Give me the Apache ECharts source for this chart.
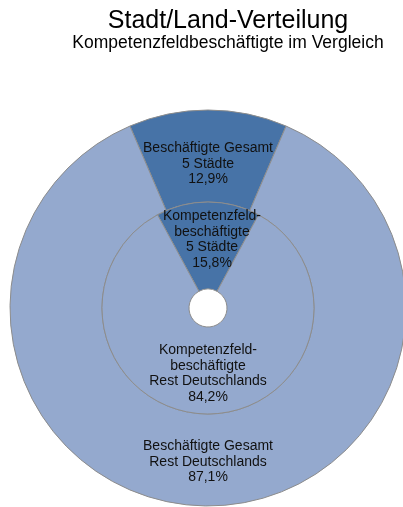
<!DOCTYPE html>
<html><head><meta charset="utf-8">
<script src="https://cdn.jsdelivr.net/npm/echarts@6/dist/echarts.min.js"></script>
<style>html,body{margin:0;padding:0;background:#fff}#c{width:403px;height:507px}</style>
</head><body><div id="c"></div>
<script>
const outerNames = ['Beschäftigte Gesamt\n5 Städte', 'Beschäftigte Gesamt\nRest Deutschlands'];
const outerValues = [12.9, 87.1];
const innerNames = ['Kompetenzfeld-\nbeschäftigte\n5 Städte', 'Kompetenzfeld-\nbeschäftigte\nRest Deutschlands'];
const innerValues = [15.8, 84.2];
const colors = ['#4773A7', '#94A9CE'];

const fmt = p => p.name + '\n' + p.value.toFixed(1).replace('.', ',') + '%';
const chart = echarts.init(document.getElementById('c'));
const offsetsOuter = [[0, 11], [0, -1]];
const offsetsInner = [[4, -3], [0, 0]];
const mk = (names, vals, offs) => names.map((n, i) => ({name: n, value: vals[i], itemStyle: {color: colors[i]}, label: {offset: offs[i]}}));
const lbl = {show: true, position: 'inside', formatter: fmt, color: '#111', fontFamily: 'Liberation Sans, Arial, sans-serif', fontSize: 14, lineHeight: 15.5};
const border = {borderColor: '#8c8c8c', borderWidth: 1};
chart.setOption({
  animation: false,
  title: {
    text: 'Stadt/Land-Verteilung',
    subtext: 'Kompetenzfeldbeschäftigte im Vergleich',
    left: 223, top: 4, textAlign: 'center',
    textStyle: {fontFamily: 'Liberation Sans, Arial, sans-serif', fontSize: 25, fontWeight: 'normal', color: '#000'},
    subtextStyle: {fontFamily: 'Liberation Sans, Arial, sans-serif', fontSize: 17.5, color: '#000'},
    itemGap: 0
  },
  series: [
    {type: 'pie', center: [208, 308], radius: [106, 198], clockwise: true,
     startAngle: 90 + outerValues[0] * 3.6 / 2, silent: true,
     itemStyle: border, label: lbl, labelLine: {show: false},
     data: mk(outerNames, outerValues, offsetsOuter)},
    {type: 'pie', center: [208, 308], radius: [19, 106], clockwise: true,
     startAngle: 90 + innerValues[0] * 3.6 / 2, silent: true,
     itemStyle: border, label: lbl, labelLine: {show: false},
     data: mk(innerNames, innerValues, offsetsInner)}
  ]
});
</script></body></html>
